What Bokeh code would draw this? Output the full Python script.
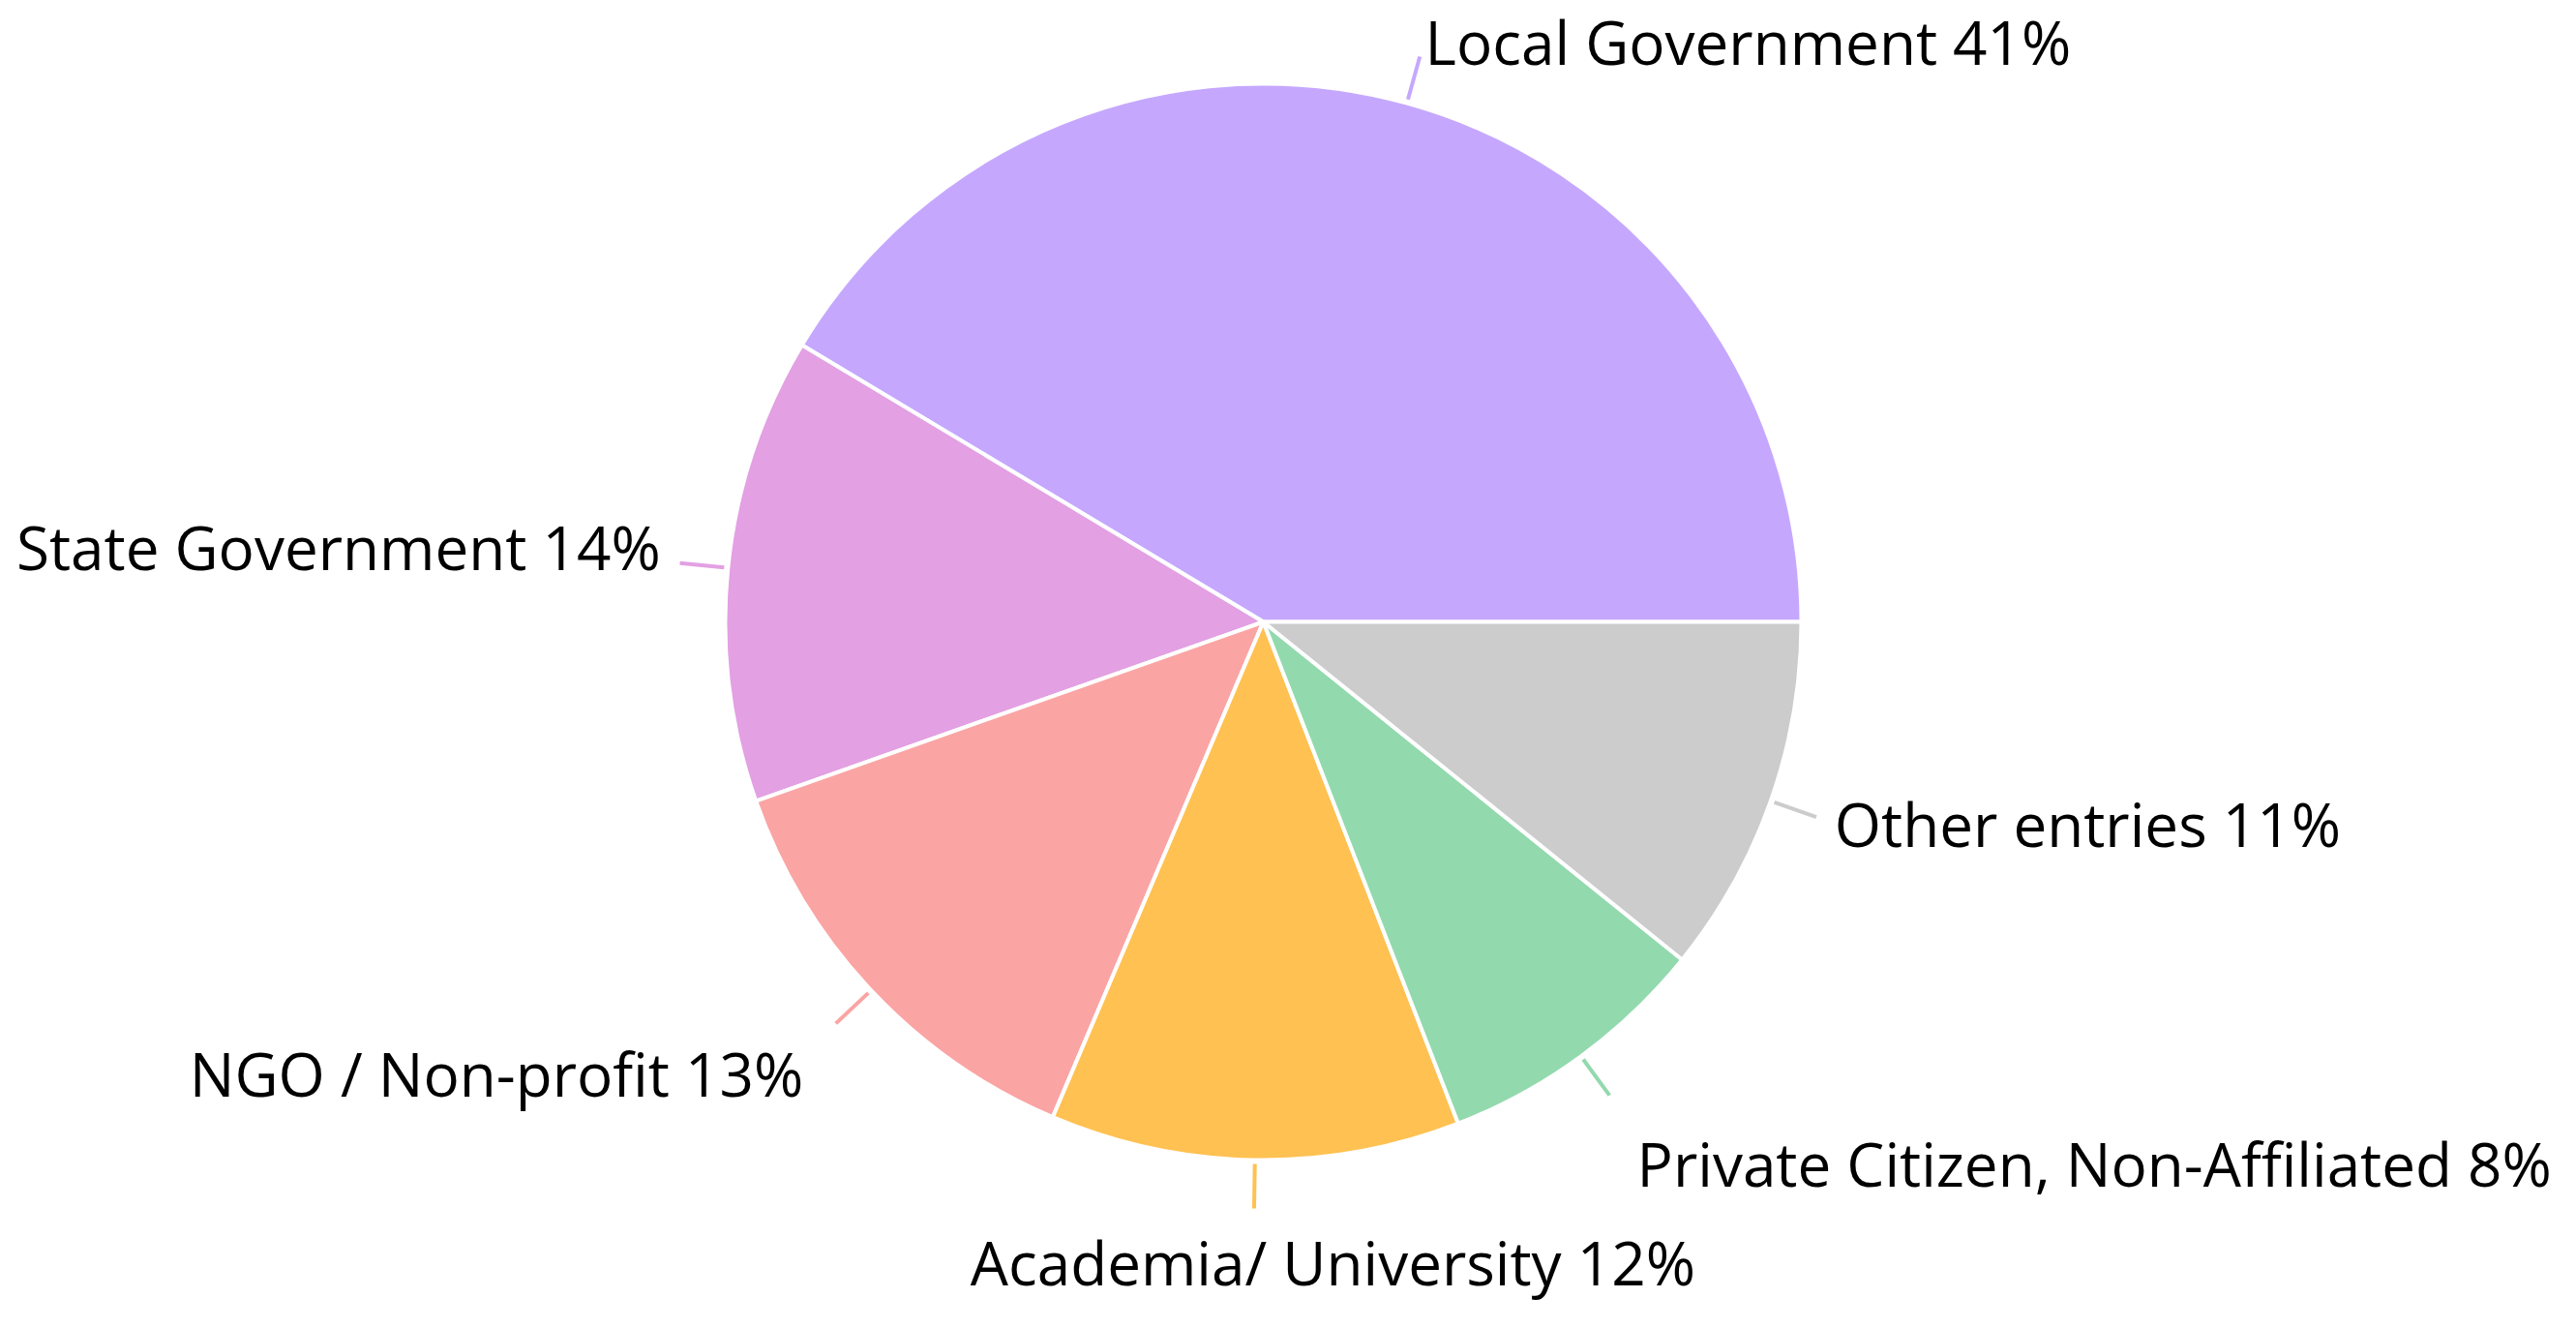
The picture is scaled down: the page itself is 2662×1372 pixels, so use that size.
import math
from bokeh.plotting import figure
from bokeh.models import Range1d, ColumnDataSource
from bokeh.core.properties import value
from bokeh.embed import file_html
from bokeh.resources import INLINE

# ---- data ----
categories = ["Local Government", "State Government", "NGO / Non-profit",
              "Academia/ University", "Private Citizen, Non-Affiliated", "Other entries"]
shares = [41.4, 14.0, 13.2, 12.3, 8.3, 10.8]
colors = ["#c5a8fe", "#e3a0e3", "#fba4a4", "#ffc152", "#93d9ae", "#cccccc"]

# ---- layout / style ----
W, H = 2646, 1356
cx, cy = 1305, 714
R = 556
label_nudge = [(0, -4), (0, 15), (-10, 12), (82, 24), (8, 0), (0, 0)]

p = figure(width=W, height=H, output_backend="svg", toolbar_location=None,
           x_range=Range1d(0, W), y_range=Range1d(0, H), min_border=0,
           outline_line_color=None)
p.axis.visible = False
p.grid.visible = False
p.background_fill_color = "white"
p.border_fill_color = "white"

total = sum(shares)
starts, ends, mids = [], [], []
acc = 0.0
for s in shares:
    a0 = 2 * math.pi * acc / total
    acc += s
    a1 = 2 * math.pi * acc / total
    starts.append(a0)
    ends.append(a1)
    mids.append((a0 + a1) / 2)

src = ColumnDataSource(dict(start=starts, end=ends, color=colors))
p.wedge(x=cx, y=cy, radius=R, start_angle="start", end_angle="end",
        fill_color="color", line_color="white", line_width=4, source=src)

x0s, y0s, x1s, y1s = [], [], [], []
lx, ly, aligns, bases, labels = [], [], [], [], []
for cat, s, m, (ndx, ndy) in zip(categories, shares, mids, label_nudge):
    c, sn = math.cos(m), math.sin(m)
    x0s.append(cx + (R + 4) * c); y0s.append(cy + (R + 4) * sn)
    x1s.append(cx + (R + 50) * c); y1s.append(cy + (R + 50) * sn)
    rl = R + 70 + (18 * (-sn) if sn < -0.5 else 0)
    lx.append(cx + rl * c + ndx); ly.append(cy + rl * sn + ndy)
    if c > 0.1:
        aligns.append("left")
    elif c < -0.1:
        aligns.append("right")
    else:
        aligns.append("center")
    bases.append("top" if sn < -0.5 else "middle")
    labels.append(f"{cat} {round(s)}%")

p.segment(x0=x0s, y0=y0s, x1=x1s, y1=y1s, line_color=colors, line_width=4)

lsrc = ColumnDataSource(dict(x=lx, y=ly, text=labels, align=aligns, base=bases))
p.text(x="x", y="y", text="text", text_align="align", text_baseline="base",
       text_font=value("Open Sans"), text_font_size=value("62px"),
       text_color="black", source=lsrc)

open("out.html", "w").write(file_html(p, INLINE))
